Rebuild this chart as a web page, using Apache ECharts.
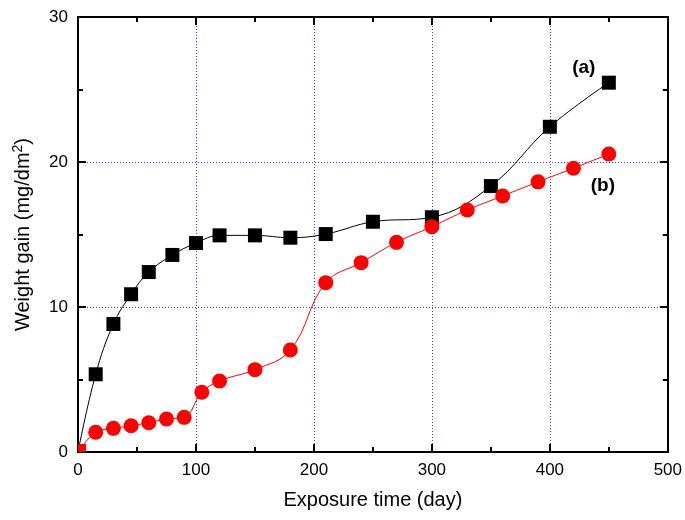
<!DOCTYPE html>
<html>
<head>
<meta charset="utf-8">
<script src="https://cdn.jsdelivr.net/npm/echarts@6/dist/echarts.min.js"></script>
<style>
  html, body { margin: 0; padding: 0; background: #fff; }
  #chart { width: 685px; height: 520px; }
</style>
</head>
<body>
<div id="chart"></div>
<script>
// Exposure time (day) for each curve
const daysA = [0, 15, 30, 45, 60, 80, 100, 120, 150, 180, 210, 250, 300, 350, 400, 450];
const gainA = [0, 5.36, 8.83, 10.88, 12.41, 13.59, 14.41, 14.94, 14.94, 14.78, 15.03, 15.88, 16.19, 18.34, 22.43, 25.47];

const daysB = [0, 15, 30, 45, 60, 75, 90, 105, 120, 150, 180, 210, 240, 270, 300, 330, 360, 390, 420, 450];
const gainB = [0, 1.36, 1.63, 1.81, 2.02, 2.28, 2.39, 4.12, 4.9, 5.68, 7.03, 11.68, 13.06, 14.46, 15.54, 16.69, 17.66, 18.63, 19.57, 20.55];

const curveNames = ['(a)', '(b)'];
const xTicks = [0, 100, 200, 300, 400, 500];
const yTicks = [0, 10, 20, 30];

const FONT = '"Liberation Sans", Arial, sans-serif';

function buildData(days, gains, name, isTop) {
  return days.map((d, i) => {
    const item = { value: [d, gains[i]] };
    if (d === 0) {
      // origin marker sits on the axes corner, only the inner quarter shows
      if (isTop) {
        item.symbol = 'rect';
        item.symbolSize = 8;
        item.symbolOffset = [4, -4];
      } else {
        item.symbol = 'none';
      }
    }
    if (i === days.length - 1) {
      item.label = {
        show: true,
        formatter: name,
        position: 'inside',
        offset: isTop ? [-6, 32] : [-25, -14.5],
        color: '#000',
        fontFamily: FONT,
        fontWeight: 'bold',
        fontSize: 19
      };
    }
    return item;
  });
}

const gridLine = { show: true, lineStyle: { color: '#3a3aff', type: [1, 2], width: 1 } };
const axisLine = { show: true, onZero: false, lineStyle: { color: '#000', width: 2 } };
const tick = { show: true, inside: true, length: 8, lineStyle: { color: '#000', width: 2 } };
const minor = { show: true, splitNumber: 2, length: 5, lineStyle: { color: '#000', width: 2 } };

const chart = echarts.init(document.getElementById('chart'));
chart.setOption({
  animation: false,
  backgroundColor: '#fff',
  grid: { left: 78, right: 17, top: 17, bottom: 68 },
  xAxis: [
    {
      type: 'value', min: xTicks[0], max: xTicks[xTicks.length - 1], interval: 100,
      position: 'bottom',
      name: 'Exposure time (day)', nameLocation: 'middle', nameGap: 38,
      nameTextStyle: { fontFamily: FONT, fontSize: 20, color: '#000' },
      axisLine, axisTick: tick, minorTick: minor,
      axisLabel: { fontFamily: FONT, fontSize: 17, color: '#000', margin: 10 },
      splitLine: gridLine
    },
    {
      type: 'value', min: xTicks[0], max: xTicks[xTicks.length - 1], interval: 100,
      position: 'top',
      axisLine, axisTick: tick, minorTick: minor,
      axisLabel: { show: false }, splitLine: { show: false }
    }
  ],
  yAxis: [
    {
      type: 'value', min: yTicks[0], max: yTicks[yTicks.length - 1], interval: 10,
      position: 'left',
      name: 'Weight gain (mg/dm{sup|2})', nameLocation: 'middle', nameGap: 43,
      nameTextStyle: {
        fontFamily: FONT, fontSize: 20, color: '#000',
        rich: { sup: { fontFamily: FONT, fontSize: 14, color: '#000', verticalAlign: 'top', padding: [0, 0, 10, 0] } }
      },
      axisLine, axisTick: tick, minorTick: minor,
      axisLabel: { fontFamily: FONT, fontSize: 17, color: '#000', margin: 10 },
      splitLine: gridLine
    },
    {
      type: 'value', min: yTicks[0], max: yTicks[yTicks.length - 1], interval: 10,
      position: 'right',
      axisLine, axisTick: tick, minorTick: minor,
      axisLabel: { show: false }, splitLine: { show: false }
    }
  ],
  series: [
    {
      name: curveNames[0], type: 'line', smooth: 0.4,
      symbol: 'rect', symbolSize: 14,
      itemStyle: { color: '#000' },
      lineStyle: { color: '#000', width: 1 },
      data: buildData(daysA, gainA, curveNames[0], false),
      z: 3
    },
    {
      name: curveNames[1], type: 'line', smooth: 0.4,
      symbol: 'circle', symbolSize: 15,
      itemStyle: { color: '#ff0000' },
      lineStyle: { color: '#ff0000', width: 1 },
      data: buildData(daysB, gainB, curveNames[1], true),
      z: 4
    }
  ]
});
</script>
</body>
</html>
